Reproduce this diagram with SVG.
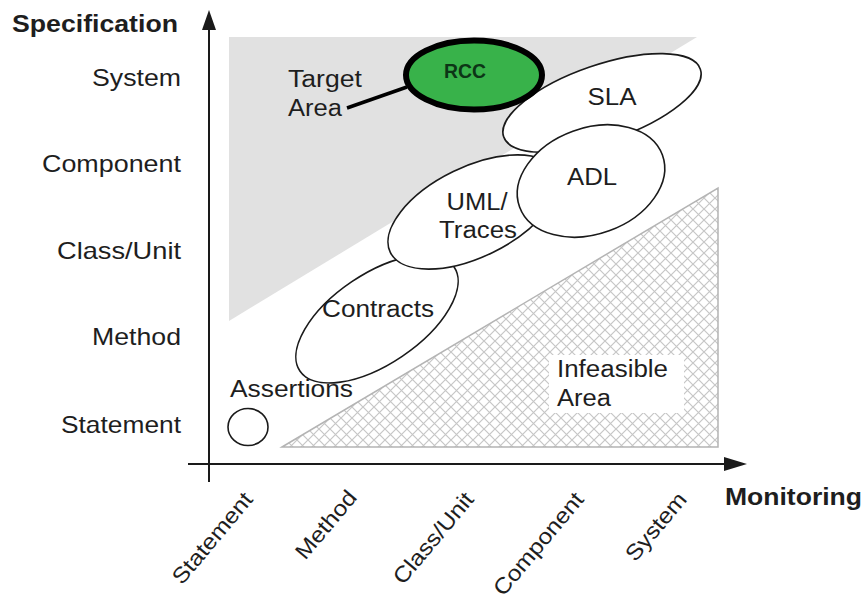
<svg xmlns="http://www.w3.org/2000/svg" width="865" height="599" viewBox="0 0 865 599">
<defs>
<style>
text{font-family:"Liberation Sans",Arial,sans-serif;fill:#1e1e1e}
.ax{font-size:24px}
.bold{font-weight:bold}
.lbl{font-size:23px}
.bt{font-size:22px}
.ell{fill:#fff;stroke:#1a1a1a;stroke-width:1.6}
.axis{stroke:#1a1a1a;stroke-width:2;fill:none}
.head{fill:#1a1a1a}
</style>
<pattern id="hatch" patternUnits="userSpaceOnUse" width="11" height="11">
<path d="M0,0L11,11M11,0L0,11" stroke="#c6c6c6" stroke-width="1.2"/>
</pattern>
</defs>
<rect width="865" height="599" fill="#fff"/>

<g id="target-area">
<polygon points="229,37 697,37 229,321" fill="#e1e1e1"/>
<text class="lbl" x="288" y="87" textLength="74" lengthAdjust="spacingAndGlyphs">Target</text>
<text class="lbl" x="288" y="116" textLength="54" lengthAdjust="spacingAndGlyphs">Area</text>
</g>

<g id="infeasible-area">
<polygon points="282,447 718,188 718,447" fill="url(#hatch)" stroke="#b4b4b4" stroke-width="1.5"/>
<rect x="549" y="355" width="135" height="58" fill="#fff"/>
<text class="lbl" x="557" y="377" textLength="111" lengthAdjust="spacingAndGlyphs">Infeasible</text>
<text class="lbl" x="557" y="406" textLength="54" lengthAdjust="spacingAndGlyphs">Area</text>
</g>

<g id="sla">
<ellipse class="ell" cx="602" cy="103" rx="104" ry="38" transform="rotate(-19 602 103)"/>
<text class="lbl" x="612" y="105" text-anchor="middle" textLength="49" lengthAdjust="spacingAndGlyphs">SLA</text>
</g>

<g id="contracts">
<ellipse class="ell" cx="377" cy="319" rx="93" ry="45" transform="rotate(-34 377 319)"/>
<text class="lbl" x="378" y="317" text-anchor="middle" textLength="112" lengthAdjust="spacingAndGlyphs">Contracts</text>
</g>

<g id="uml-traces">
<ellipse class="ell" cx="473" cy="212" rx="92" ry="45" transform="rotate(-26 473 212)"/>
<text class="lbl" x="477" y="210" text-anchor="middle" textLength="61" lengthAdjust="spacingAndGlyphs">UML/</text>
<text class="lbl" x="478" y="238" text-anchor="middle" textLength="78" lengthAdjust="spacingAndGlyphs">Traces</text>
</g>

<g id="adl">
<ellipse class="ell" cx="591" cy="181" rx="76" ry="53" transform="rotate(-20 591 181)"/>
<text class="lbl" x="592" y="185" text-anchor="middle" textLength="50" lengthAdjust="spacingAndGlyphs">ADL</text>
</g>

<g id="assertions">
<ellipse class="ell" cx="248" cy="427" rx="20" ry="18.5"/>
<text class="lbl" x="230" y="397" textLength="123" lengthAdjust="spacingAndGlyphs">Assertions</text>
</g>

<g id="connectors">
<line x1="347" y1="108" x2="407" y2="87" stroke="#000" stroke-width="3.5"/>
</g>

<g id="rcc">
<ellipse cx="474" cy="75" rx="68" ry="34.5" fill="#38b24a" stroke="#000" stroke-width="6"/>
<text x="465" y="78" text-anchor="middle" font-family="'Open Sans','Liberation Sans',sans-serif" font-weight="bold" font-size="20" style="fill:#0c3516" textLength="42" lengthAdjust="spacingAndGlyphs">RCC</text>
</g>

<g id="axes">
<line class="axis" x1="209" y1="482" x2="209" y2="28"/>
<polygon class="head" points="209,10 202,30 216,30"/>
<line class="axis" x1="188" y1="464" x2="727" y2="464"/>
<polygon class="head" points="747,464 724,457 724,471"/>
<text class="ax bold" x="12" y="32" textLength="166" lengthAdjust="spacingAndGlyphs">Specification</text>
<text class="ax bold" x="725" y="505" textLength="137" lengthAdjust="spacingAndGlyphs">Monitoring</text>
<text class="ax" x="181" y="86" text-anchor="end" textLength="89" lengthAdjust="spacingAndGlyphs">System</text>
<text class="ax" x="181" y="172" text-anchor="end" textLength="139" lengthAdjust="spacingAndGlyphs">Component</text>
<text class="ax" x="181" y="259" text-anchor="end" textLength="124" lengthAdjust="spacingAndGlyphs">Class/Unit</text>
<text class="ax" x="181" y="345" text-anchor="end" textLength="89" lengthAdjust="spacingAndGlyphs">Method</text>
<text class="ax" x="181" y="433" text-anchor="end" textLength="120" lengthAdjust="spacingAndGlyphs">Statement</text>
<text class="bt" x="254" y="500" text-anchor="end" transform="rotate(-50 254 500)" textLength="112" lengthAdjust="spacingAndGlyphs">Statement</text>
<text class="bt" x="358" y="498" text-anchor="end" transform="rotate(-50 358 498)" textLength="82" lengthAdjust="spacingAndGlyphs">Method</text>
<text class="bt" x="475" y="500" text-anchor="end" transform="rotate(-50 475 500)" textLength="112" lengthAdjust="spacingAndGlyphs">Class/Unit</text>
<text class="bt" x="585" y="500" text-anchor="end" transform="rotate(-50 585 500)" textLength="127" lengthAdjust="spacingAndGlyphs">Component</text>
<text class="bt" x="688" y="500" text-anchor="end" transform="rotate(-50 688 500)" textLength="82" lengthAdjust="spacingAndGlyphs">System</text>
</g>
</svg>
